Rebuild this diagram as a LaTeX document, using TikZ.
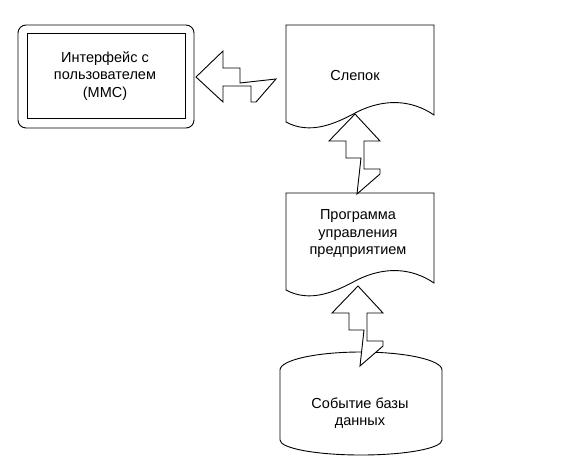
\documentclass[tikz,border=0pt]{standalone}
\usepackage{fontspec}
\setmainfont{Liberation Sans}
\newcommand{\molnia}{(0,0) -- (27,25) -- (27,9) -- (55,9) -- (55,25) -- (60,25) -- (80,2) -- (44,6) -- (44,-9) -- (27,-9) -- (27,-26) -- cycle}
\begin{document}
\begin{tikzpicture}[x=1pt, y=-1pt, line width=0.9pt,
    every node/.style={font=\fontsize{14.5}{17.5}\selectfont, align=center, inner sep=0pt},
    shapeline/.style={draw=black, line width=0.9pt},
    bolt/.style={draw=black, fill=white, line width=0.9pt, line join=miter}]
\useasboundingbox (0,0) rectangle (586,464);

% интерфейс (двойная рамка)
\draw[shapeline, rounded corners=8pt] (18,25) rectangle (194,128);
\draw[shapeline] (27,33) rectangle (185,118);
\node (ui) at (105,76) {Интерфейс с\\пользователем\\(ММС)};

% документ: слепок
\draw[shapeline] (286,25) -- (434,25) -- (434,115)
    .. controls (412,100) and (385,98) .. (357,112)
    .. controls (335,124) and (310,135) .. (286,122) -- cycle;
\node (slepok) at (355,76) {Слепок};

% документ: программа
\draw[shapeline] (286,193) -- (434,193) -- (434,283)
    .. controls (412,268) and (385,266) .. (357,280)
    .. controls (335,292) and (310,303) .. (286,290) -- cycle;
\node (prog) at (358,234) {Программа\\управления\\предприятием};

% база данных (цилиндр)
\draw[shapeline] (280,370) arc[start angle=180, end angle=0, x radius=81, y radius=-18]
    -- (442,440) arc[start angle=0, end angle=-180, x radius=81, y radius=-15] -- cycle;
\node (db) at (360,413) {Событие базы\\данных};

% молнии
\coordinate (tip1) at (196,77);
\coordinate (tip2) at (355,114);
\coordinate (tip3) at (358,286);
\draw[bolt, shift={(tip1)}] \molnia;
\draw[bolt, shift={(tip2)}, x={(0pt,-1pt)}, y={(1pt,0pt)}] \molnia;
\draw[bolt, shift={(tip3)}, x={(0pt,-1pt)}, y={(1pt,0pt)}] \molnia;
\end{tikzpicture}
\end{document}
